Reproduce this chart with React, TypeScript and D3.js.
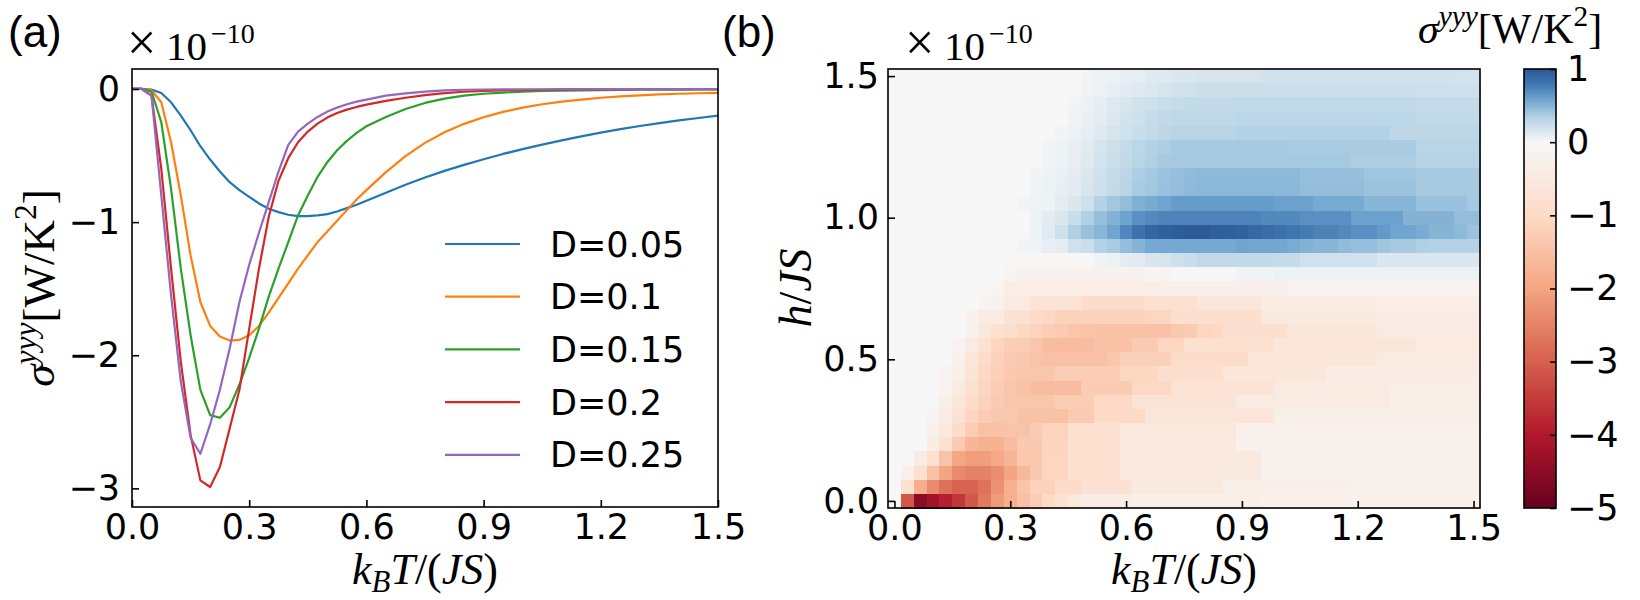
import React, { useEffect, useRef } from "react";
import * as d3 from "d3";

// ---------- panel (a): sigma^yyy (x 1e-10 W/K^2) against k_B T/(JS) ----------
const T_LINE = [
  0, 0.025, 0.05, 0.075, 0.1, 0.125, 0.15, 0.175, 0.2, 0.225, 0.25, 0.275, 0.3, 0.325, 0.35, 0.375, 0.4,
  0.425, 0.45, 0.475, 0.5, 0.525, 0.55, 0.575, 0.6, 0.65, 0.7, 0.75, 0.8, 0.85, 0.9, 0.95, 1.0, 1.05,
  1.1, 1.15, 1.2, 1.25, 1.3, 1.35, 1.4, 1.45, 1.5,
];
const D_LABELS = ["D=0.05", "D=0.1", "D=0.15", "D=0.2", "D=0.25"];
const SIGMA_D005 = [
  0, 0, -0.005, -0.03, -0.1, -0.2, -0.31, -0.43, -0.53, -0.62, -0.7, -0.76, -0.81, -0.86, -0.9, -0.925,
  -0.945, -0.955, -0.955, -0.95, -0.94, -0.92, -0.895, -0.87, -0.84, -0.78, -0.72, -0.665, -0.615, -0.57,
  -0.528, -0.488, -0.452, -0.418, -0.386, -0.356, -0.328, -0.302, -0.278, -0.256, -0.236, -0.218, -0.2,
];
const SIGMA_D010 = [
  0, 0, -0.01, -0.1, -0.4, -0.8, -1.25, -1.6, -1.78, -1.86, -1.89, -1.885, -1.85, -1.78, -1.68, -1.57,
  -1.46, -1.35, -1.25, -1.15, -1.07, -0.99, -0.91, -0.83, -0.76, -0.625, -0.505, -0.405, -0.325, -0.262,
  -0.212, -0.172, -0.14, -0.115, -0.095, -0.08, -0.066, -0.056, -0.048, -0.041, -0.036, -0.032, -0.03,
];
const SIGMA_D015 = [
  0, 0, -0.02, -0.25, -0.75, -1.35, -1.85, -2.26, -2.45, -2.47, -2.39, -2.22, -2.02, -1.8, -1.56, -1.35,
  -1.15, -0.95, -0.8, -0.66, -0.55, -0.46, -0.39, -0.33, -0.28, -0.21, -0.15, -0.105, -0.072, -0.05,
  -0.036, -0.027, -0.02, -0.015, -0.012, -0.01, -0.008, -0.007, -0.006, -0.005, -0.005, -0.004, -0.004,
];
const SIGMA_D020 = [
  0, 0, -0.05, -0.6, -1.35, -2.05, -2.6, -2.94, -2.99, -2.84, -2.55, -2.26, -1.8, -1.35, -0.96, -0.69,
  -0.52, -0.4, -0.32, -0.26, -0.215, -0.18, -0.155, -0.135, -0.118, -0.09, -0.066, -0.046, -0.031, -0.021,
  -0.014, -0.01, -0.008, -0.006, -0.005, -0.004, -0.003, -0.003, -0.002, -0.002, -0.002, -0.002, -0.002,
];
const SIGMA_D025 = [
  0, 0, -0.05, -0.8, -1.55, -2.2, -2.62, -2.74, -2.52, -2.26, -1.95, -1.6, -1.32, -1.08, -0.85, -0.62,
  -0.42, -0.32, -0.26, -0.21, -0.17, -0.14, -0.115, -0.095, -0.08, -0.05, -0.033, -0.02, -0.01, -0.006,
  -0.004, -0.003, -0.002, -0.002, -0.001, -0.001, -0.001, -0.001, -0.001, -0.001, -0.001, -0.001, -0.001,
];
const LINE_COLORS = ["#1f77b4", "#ff7f0e", "#2ca02c", "#d62728", "#9467bd"];

const XA_TICKS = [0, 0.3, 0.6, 0.9, 1.2, 1.5];
const YA_TICKS = [0, -1, -2, -3];

// ---------- panel (b): sigma^yyy map over (k_B T/(JS), h/JS) ----------
const T_GRID = [
  0, 0.033, 0.067, 0.1, 0.133, 0.167, 0.2, 0.233, 0.267, 0.3, 0.333, 0.367, 0.4, 0.433, 0.467, 0.5,
  0.533, 0.567, 0.6, 0.633, 0.667, 0.7, 0.733, 0.767, 0.8, 0.833, 0.867, 0.9, 0.933, 0.967, 1.0, 1.033,
  1.067, 1.1, 1.133, 1.167, 1.2, 1.233, 1.267, 1.3, 1.333, 1.367, 1.4, 1.433, 1.467, 1.5,
];
// rows from top (h = 1.5) to bottom (h = 0)
const H_GRID = [
  1.5, 1.45, 1.4, 1.35, 1.3, 1.25, 1.2, 1.15, 1.1, 1.05, 1.0, 0.95, 0.9, 0.85, 0.8, 0.75, 0.7, 0.65, 0.6,
  0.55, 0.5, 0.45, 0.4, 0.35, 0.3, 0.25, 0.2, 0.15, 0.1, 0.05, 0,
];
const SIGMA_MAP = [
  [0,0,0,0,0,0,0,0,0,0,0,0,0,0,0,.03,.05,.05,.09,.09,.12,.13,.15,.15,.17,.17,.17,.17,.17,.19,.19,.19,.19,.19,.19,.19,.19,.19,.19,.19,.19,.19,.19,.19,.18,.18],
  [0,0,0,0,0,0,0,0,0,0,0,0,0,0,0,.04,.06,.08,.11,.13,.15,.17,.19,.2,.22,.22,.22,.22,.22,.22,.22,.22,.22,.22,.22,.22,.22,.22,.22,.22,.22,.21,.21,.21,.21,.21],
  [0,0,0,0,0,0,0,0,0,0,0,0,0,0,.03,.06,.09,.13,.16,.19,.21,.23,.24,.26,.26,.26,.26,.27,.27,.27,.27,.27,.27,.27,.27,.27,.27,.27,.27,.27,.27,.25,.25,.25,.25,.25],
  [0,0,0,0,0,0,0,0,0,0,0,0,0,0,.04,.07,.1,.14,.18,.21,.24,.27,.28,.28,.28,.28,.28,.3,.3,.3,.3,.3,.3,.3,.3,.3,.3,.3,.3,.3,.3,.27,.27,.27,.27,.27],
  [0,0,0,0,0,0,0,0,0,0,0,0,0,.03,.06,.09,.13,.17,.2,.23,.26,.29,.31,.31,.31,.31,.31,.33,.33,.33,.33,.33,.33,.33,.33,.33,.33,.33,.33,.29,.29,.29,.29,.29,.29,.29],
  [0,0,0,0,0,0,0,0,0,0,0,0,.03,.05,.08,.12,.17,.21,.25,.3,.33,.36,.38,.38,.38,.38,.38,.38,.38,.38,.38,.37,.37,.37,.37,.37,.37,.37,.37,.37,.37,.31,.31,.31,.31,.31],
  [0,0,0,0,0,0,0,0,0,0,0,0,.03,.05,.09,.13,.18,.22,.26,.31,.35,.38,.39,.39,.39,.39,.39,.39,.39,.39,.39,.39,.39,.39,.39,.39,.36,.36,.36,.36,.36,.32,.32,.32,.32,.32],
  [0,0,0,0,0,0,0,0,0,0,0,.03,.05,.07,.1,.15,.2,.25,.3,.36,.39,.42,.44,.46,.47,.47,.47,.47,.47,.47,.47,.47,.44,.44,.44,.44,.44,.41,.41,.41,.41,.38,.38,.38,.38,.38],
  [0,0,0,0,0,0,0,0,0,0,0,.04,.06,.08,.11,.16,.21,.26,.31,.37,.4,.43,.45,.47,.48,.48,.48,.48,.48,.48,.48,.48,.45,.45,.45,.45,.45,.42,.42,.42,.42,.38,.38,.38,.38,.38],
  [0,0,0,0,0,0,0,0,0,0,.03,.04,.05,.1,.15,.21,.33,.4,.45,.52,.55,.58,.62,.62,.62,.62,.62,.62,.62,.62,.6,.6,.6,.55,.55,.55,.55,.49,.49,.49,.49,.43,.43,.43,.43,.39],
  [0,0,0,0,0,0,0,0,0,0,0,.05,.1,.15,.23,.35,.44,.51,.59,.67,.71,.73,.73,.73,.73,.73,.73,.73,.73,.71,.71,.71,.68,.68,.68,.68,.6,.6,.6,.6,.51,.51,.51,.51,.45,.45],
  [0,0,0,0,0,0,0,0,0,0,0,.05,.12,.21,.35,.43,.49,.58,.72,.82,.9,.94,.96,.98,.98,.95,.94,.92,.89,.86,.83,.8,.77,.74,.74,.71,.67,.67,.63,.58,.58,.54,.5,.5,.47,.42],
  [0,0,0,0,0,0,0,0,0,0,.03,.04,.08,.1,.19,.22,.33,.37,.45,.5,.56,.56,.56,.56,.56,.56,.56,.58,.57,.57,.57,.54,.51,.49,.49,.46,.44,.44,.41,.38,.38,.35,.33,.33,.33,.33],
  [0,0,0,0,0,0,0,0,0,-.04,-.04,-.04,-.04,-.04,0,0,.04,.06,.1,.11,.16,.17,.21,.23,.27,.27,.27,.27,.27,.27,.25,.25,.2,.2,.2,.2,.2,.2,.15,.15,.15,.15,.15,.15,.15,.15],
  [0,0,0,0,0,0,0,0,0,-.1,-.18,-.18,-.18,-.18,-.18,-.18,-.18,-.18,-.18,-.18,-.1,-.1,0,0,0,0,0,.03,.03,.03,.06,.06,.06,.06,.06,.06,.06,.06,.06,.06,.06,.06,.06,.06,.06,.06],
  [0,0,0,0,0,0,0,0,-.1,-.35,-.35,-.35,-.35,-.35,-.35,-.35,-.35,-.35,-.35,-.35,-.35,-.28,-.28,-.28,-.28,-.28,-.28,-.28,-.28,-.28,-.28,-.15,-.15,-.15,-.15,-.15,-.15,-.15,-.15,-.15,-.15,-.15,-.15,-.15,-.15,-.15],
  [0,0,0,0,0,0,0,-.12,-.2,-.4,-.45,-.7,-.7,-.7,-.7,-.93,-.93,-.93,-.93,-.93,-.8,-.8,-.8,-.8,-.6,-.6,-.6,-.6,-.6,-.42,-.42,-.42,-.42,-.42,-.42,-.42,-.42,-.42,-.36,-.36,-.36,-.36,-.36,-.36,-.36,-.36],
  [0,0,0,0,0,0,-.2,-.4,-.45,-.72,-.78,-1,-1.05,-1.17,-1.17,-1.17,-1.17,-1.17,-1.17,-1.17,-1.09,-1.09,-.85,-.85,-.85,-.85,-.85,-.85,-.85,-.5,-.5,-.5,-.5,-.5,-.5,-.5,-.5,-.5,-.38,-.38,-.38,-.38,-.38,-.38,-.38,-.38],
  [0,0,0,0,0,0,-.2,-.54,-.82,-.88,-1.08,-1.14,-1.26,-1.3,-1.4,-1.42,-1.48,-1.48,-1.48,-1.48,-1.48,-1.48,-1.35,-1.3,-1.1,-1.05,-.85,-.85,-.85,-.85,-.85,-.61,-.61,-.61,-.61,-.61,-.61,-.61,-.45,-.45,-.45,-.45,-.45,-.45,-.45,-.45],
  [0,0,0,0,0,-.15,-.43,-.75,-1.09,-1.24,-1.28,-1.39,-1.55,-1.55,-1.55,-1.55,-1.46,-1.46,-1.46,-1.3,-1.3,-1.09,-1.09,-.82,-.82,-.82,-.82,-.82,-.82,-.82,-.61,-.61,-.61,-.61,-.61,-.61,-.61,-.61,-.61,-.61,-.61,-.47,-.47,-.47,-.47,-.47],
  [0,0,0,0,0,-.2,-.6,-.96,-1.17,-1.3,-1.36,-1.44,-1.5,-1.5,-1.5,-1.5,-1.5,-1.4,-1.2,-1.2,-1.2,-1.2,-.93,-.93,-.93,-.93,-.93,-.93,-.61,-.61,-.61,-.61,-.61,-.61,-.61,-.61,-.61,-.61,-.45,-.45,-.45,-.45,-.45,-.45,-.45,-.45],
  [0,0,0,0,-.15,-.29,-.68,-1.04,-1.22,-1.33,-1.39,-1.39,-1.39,-1.26,-1.26,-1.26,-1.26,-1.26,-1.06,-1.06,-1.06,-.85,-.85,-.85,-.85,-.85,-.61,-.61,-.61,-.61,-.61,-.61,-.61,-.61,-.4,-.4,-.4,-.4,-.4,-.4,-.4,-.4,-.4,-.4,-.4,-.4],
  [0,0,0,0,-.15,-.43,-.82,-1.1,-1.26,-1.39,-1.48,-1.55,-1.55,-1.55,-1.55,-1.28,-1.28,-1.28,-1.28,-1.04,-1.04,-1.04,-.68,-.68,-.68,-.68,-.68,-.68,-.68,-.68,-.45,-.45,-.45,-.45,-.45,-.45,-.45,-.45,-.45,-.36,-.36,-.36,-.36,-.36,-.36,-.36],
  [0,0,0,0,-.29,-.61,-.96,-1.17,-1.3,-1.39,-1.39,-1.39,-1.39,-1.26,-1.26,-1.26,-1.02,-1.02,-1.02,-.68,-.68,-.68,-.68,-.68,-.68,-.68,-.68,-.43,-.43,-.43,-.43,-.43,-.43,-.43,-.43,-.43,-.43,-.43,-.43,-.29,-.29,-.29,-.29,-.29,-.29,-.29],
  [0,0,0,-.15,-.39,-.75,-1.09,-1.28,-1.36,-1.36,-1.48,-1.48,-1.48,-1.48,-1.3,-1.3,-1.02,-1.02,-1.02,-1.02,-.65,-.65,-.65,-.65,-.65,-.65,-.65,-.65,-.65,-.65,-.3,-.3,-.3,-.3,-.3,-.3,-.3,-.3,-.3,-.3,-.3,-.3,-.3,-.3,-.3,-.3],
  [0,0,0,-.25,-.54,-.96,-1.26,-1.48,-1.48,-1.44,-1.44,-1.3,-1.15,-1.15,-.82,-.82,-.82,-.82,-.54,-.54,-.54,-.54,-.54,-.54,-.54,-.54,-.54,-.25,-.25,-.25,-.25,-.25,-.25,-.25,-.25,-.25,-.25,-.25,-.25,-.25,-.25,-.25,-.25,-.25,-.25,-.25],
  [0,0,0,-.39,-.82,-1.3,-1.69,-1.78,-1.78,-1.56,-1.33,-1.33,-1.11,-1.11,-.82,-.82,-.82,-.82,-.5,-.5,-.5,-.5,-.5,-.5,-.5,-.5,-.5,-.21,-.21,-.21,-.21,-.21,-.21,-.21,-.21,-.21,-.21,-.21,-.21,-.21,-.21,-.21,-.21,-.21,-.21,-.21],
  [0,0,-.39,-.82,-1.44,-1.97,-2.1,-2.1,-1.93,-1.7,-1.36,-1.36,-1.1,-1.1,-.82,-.82,-.82,-.82,-.5,-.5,-.5,-.5,-.5,-.5,-.5,-.5,-.5,-.5,-.5,-.21,-.21,-.21,-.21,-.21,-.21,-.21,-.21,-.21,-.21,-.21,-.21,-.21,-.21,-.21,-.21,-.21],
  [0,-.25,-.82,-1.46,-2,-2.39,-2.49,-2.49,-2.33,-2,-1.63,-1.36,-1.1,-1.1,-.79,-.79,-.79,-.79,-.5,-.5,-.5,-.5,-.5,-.5,-.5,-.5,-.5,-.5,-.5,-.21,-.21,-.21,-.21,-.21,-.21,-.21,-.21,-.21,-.21,-.21,-.21,-.21,-.21,-.21,-.21,-.21],
  [0,-.79,-1.83,-2.39,-2.75,-2.95,-2.95,-2.74,-2.28,-1.8,-1.43,-1.17,-1.17,-.96,-.96,-.75,-.75,-.75,-.75,-.5,-.5,-.5,-.5,-.5,-.5,-.5,-.29,-.29,-.29,-.29,-.29,-.29,-.29,-.29,-.29,-.29,-.22,-.22,-.22,-.22,-.22,-.22,-.22,-.22,-.22,-.22],
  [0,-3.1,-4.5,-4.2,-3.9,-3.55,-3.1,-2.62,-2.16,-1.8,-1.5,-1.26,-1,-.75,-.54,-.4,-.4,-.4,-.4,-.3,-.3,-.3,-.3,-.3,-.3,-.3,-.3,-.3,-.3,-.22,-.22,-.22,-.22,-.22,-.22,-.22,-.22,-.22,-.22,-.22,-.22,-.22,-.22,-.22,-.22,-.22],
];
const XB_TICKS = [0, 0.3, 0.6, 0.9, 1.2, 1.5];
const YB_TICKS = [0, 0.5, 1.0, 1.5];
const CB_TICKS = [1, 0, -1, -2, -3, -4, -5];
const CMAP_VALUES = [-5, -4, -3, -2, -1, 0, 0.12, 0.35, 0.58, 0.8, 1];
const CMAP_COLORS = ["#67001f", "#b2182b", "#d6604d", "#f4a582", "#fddbc7", "#f7f7f7", "#e0eaf1", "#b0d0e4", "#6fa5cf", "#3f75b0", "#2a5796"];

const SANS = "'DejaVu Sans', sans-serif";
const SERIF = "'Liberation Serif', 'DejaVu Serif', serif";
const PANEL_FONT = "'Liberation Sans', Arial, sans-serif";

type Seg = { t: string; it?: boolean; sup?: boolean; sub?: boolean };

function richText(
  parent: d3.Selection<any, unknown, null, undefined>,
  x: number,
  y: number,
  segs: Seg[],
  size: number,
  anchor = "start",
  rotate = 0
) {
  const text = parent
    .append("text")
    .attr("x", x)
    .attr("y", y)
    .attr("font-family", SERIF)
    .attr("font-size", size)
    .attr("text-anchor", anchor)
    .attr("fill", "#000");
  if (rotate) text.attr("transform", `rotate(${rotate},${x},${y})`);
  let shift = 0;
  segs.forEach((s) => {
    const target = s.sup ? -0.4 * size : s.sub ? 0.18 * size : 0;
    text
      .append("tspan")
      .attr("dy", target - shift)
      .attr("font-size", s.sup || s.sub ? size * 0.7 : size)
      .attr("font-style", s.it ? "italic" : "normal")
      .text(s.t);
    shift = target;
  });
  return text;
}

// half-cell edges between neighbouring grid values (extrapolated at the ends)
function edge(arr: number[], i: number, side: -1 | 1) {
  const j = i + side;
  if (j < 0 || j >= arr.length) return arr[i] + (arr[i] - arr[i - side]) / 2;
  return (arr[i] + arr[j]) / 2;
}

const App: React.FC = () => {
  const svgRef = useRef<SVGSVGElement>(null);

  useEffect(() => {
    if (!svgRef.current) return;
    const svg = d3.select(svgRef.current);
    svg.selectAll("*").remove();

    const styleAxis = (g: d3.Selection<SVGGElement, unknown, null, undefined>) => {
      g.select(".domain").remove();
      g.selectAll(".tick line").attr("stroke", "#000").attr("stroke-width", 1.6);
      g.selectAll(".tick text").attr("fill", "#000").attr("font-size", 35).attr("font-family", SANS);
    };

    const offsetText = (x: number) => {
      svg.append("text").attr("x", x).attr("y", 60).attr("font-family", SERIF).attr("font-size", 52).text("×");
      svg.append("text").attr("x", x + 39).attr("y", 60).attr("font-family", SERIF).attr("font-size", 41).text("10");
      svg.append("text").attr("x", x + 84).attr("y", 43).attr("font-family", SERIF).attr("font-size", 28).text("−10");
    };

    const xLabelSegs: Seg[] = [
      { t: "k", it: true },
      { t: "B", it: true, sub: true },
      { t: "T", it: true },
      { t: "/(" },
      { t: "JS", it: true },
      { t: ")" },
    ];
    const sigmaSegs: Seg[] = [
      { t: "σ", it: true },
      { t: "yyy", it: true, sup: true },
      { t: "[W/K" },
      { t: "2", sup: true },
      { t: "]" },
    ];

    // ---------------- panel (a) ----------------
    const A = { left: 132, right: 718, top: 69, bottom: 507 };
    const xA = d3.scaleLinear().domain([0, 1.5]).range([A.left, A.right]);
    const yA = d3.scaleLinear().domain([-3.14, 0.15]).range([A.bottom, A.top]);

    svg
      .append("clipPath")
      .attr("id", "clipA")
      .append("rect")
      .attr("x", A.left)
      .attr("y", A.top)
      .attr("width", A.right - A.left)
      .attr("height", A.bottom - A.top);

    const series = [SIGMA_D005, SIGMA_D010, SIGMA_D015, SIGMA_D020, SIGMA_D025];
    const line = d3
      .line<number>()
      .x((_, i) => xA(T_LINE[i]))
      .y((d) => yA(d));
    const curves = svg.append("g").attr("clip-path", "url(#clipA)");
    series.forEach((s, k) => {
      curves
        .append("path")
        .attr("d", line(s))
        .attr("fill", "none")
        .attr("stroke", LINE_COLORS[k])
        .attr("stroke-width", 2.2)
        .attr("stroke-linejoin", "round");
    });

    svg
      .append("g")
      .attr("transform", `translate(0,${A.bottom})`)
      .call(
        d3
          .axisBottom(xA)
          .tickValues(XA_TICKS)
          .tickFormat(d3.format(".1f") as any)
          .tickSizeInner(-7)
          .tickSizeOuter(0)
          .tickPadding(7)
      )
      .call(styleAxis);
    svg
      .append("g")
      .attr("transform", `translate(${A.left},0)`)
      .call(
        d3
          .axisLeft(yA)
          .tickValues(YA_TICKS)
          .tickFormat(d3.format("d") as any)
          .tickSizeInner(-7)
          .tickSizeOuter(0)
          .tickPadding(12)
      )
      .call(styleAxis);
    svg
      .append("rect")
      .attr("x", A.left)
      .attr("y", A.top)
      .attr("width", A.right - A.left)
      .attr("height", A.bottom - A.top)
      .attr("fill", "none")
      .attr("stroke", "#000")
      .attr("stroke-width", 1.6);

    // legend
    const legend = svg.append("g").attr("transform", "translate(445,244)");
    D_LABELS.forEach((lab, i) => {
      const row = legend.append("g").attr("transform", `translate(0,${i * 52.7})`);
      row.append("line").attr("x1", 0).attr("x2", 75).attr("stroke", LINE_COLORS[i]).attr("stroke-width", 2.2);
      row
        .append("text")
        .attr("x", 105)
        .attr("dy", "0.36em")
        .attr("font-family", SANS)
        .attr("font-size", 35)
        .text(lab);
    });

    svg.append("text").attr("x", 8).attr("y", 47).attr("font-family", PANEL_FONT).attr("font-size", 44).text("(a)");
    offsetText(127);
    richText(svg, (A.left + A.right) / 2, 584, xLabelSegs, 44, "middle");
    richText(svg, 54, 288, sigmaSegs, 45, "middle", -90);

    // ---------------- panel (b) ----------------
    const B = { left: 888, right: 1480, top: 69, bottom: 508 };
    const xB = d3.scaleLinear().domain([-1 / 60, 1.5 + 1 / 60]).range([B.left, B.right]);
    const yB = d3.scaleLinear().domain([-0.025, 1.525]).range([B.bottom, B.top]);
    const color = d3
      .scaleLinear<string>()
      .domain(CMAP_VALUES)
      .range(CMAP_COLORS)
      .interpolate(d3.interpolateRgb)
      .clamp(true);

    const cells = svg.append("g").attr("shape-rendering", "crispEdges");
    SIGMA_MAP.forEach((row, r) => {
      const ya = yB(edge(H_GRID, r, -1));
      const yb = yB(edge(H_GRID, r, 1));
      row.forEach((v, c) => {
        const x0 = xB(edge(T_GRID, c, -1));
        const x1 = xB(edge(T_GRID, c, 1));
        cells
          .append("rect")
          .attr("x", x0)
          .attr("y", Math.min(ya, yb))
          .attr("width", x1 - x0 + 0.6)
          .attr("height", Math.abs(yb - ya) + 0.6)
          .attr("fill", color(v));
      });
    });

    svg
      .append("g")
      .attr("transform", `translate(0,${B.bottom})`)
      .call(
        d3
          .axisBottom(xB)
          .tickValues(XB_TICKS)
          .tickFormat(d3.format(".1f") as any)
          .tickSizeInner(-7)
          .tickSizeOuter(0)
          .tickPadding(7)
      )
      .call(styleAxis);
    svg
      .append("g")
      .attr("transform", `translate(${B.left},0)`)
      .call(
        d3
          .axisLeft(yB)
          .tickValues(YB_TICKS)
          .tickFormat(d3.format(".1f") as any)
          .tickSizeInner(-7)
          .tickSizeOuter(0)
          .tickPadding(9)
      )
      .call(styleAxis);
    svg
      .append("rect")
      .attr("x", B.left)
      .attr("y", B.top)
      .attr("width", B.right - B.left)
      .attr("height", B.bottom - B.top)
      .attr("fill", "none")
      .attr("stroke", "#000")
      .attr("stroke-width", 1.6);

    svg.append("text").attr("x", 722).attr("y", 47).attr("font-family", PANEL_FONT).attr("font-size", 44).text("(b)");
    offsetText(905);
    richText(svg, (B.left + B.right) / 2, 584, xLabelSegs, 44, "middle");
    richText(svg, 811, 288, [{ t: "h", it: true }, { t: "/" }, { t: "JS", it: true }], 46, "middle", -90);

    // ---------------- colour bar ----------------
    const CB = { left: 1524, right: 1556, top: 69, bottom: 508 };
    const yC = d3.scaleLinear().domain([-5, 1]).range([CB.bottom, CB.top]);
    const grad = svg
      .append("defs")
      .append("linearGradient")
      .attr("id", "cbGrad")
      .attr("x1", 0)
      .attr("y1", 1)
      .attr("x2", 0)
      .attr("y2", 0);
    CMAP_VALUES.forEach((v, i) => {
      grad
        .append("stop")
        .attr("offset", (v - CMAP_VALUES[0]) / (CMAP_VALUES[CMAP_VALUES.length - 1] - CMAP_VALUES[0]))
        .attr("stop-color", CMAP_COLORS[i]);
    });
    svg
      .append("rect")
      .attr("x", CB.left)
      .attr("y", CB.top)
      .attr("width", CB.right - CB.left)
      .attr("height", CB.bottom - CB.top)
      .attr("fill", "url(#cbGrad)")
      .attr("stroke", "#000")
      .attr("stroke-width", 1.6);
    svg
      .append("g")
      .attr("transform", `translate(${CB.right},0)`)
      .call(
        d3
          .axisRight(yC)
          .tickValues(CB_TICKS)
          .tickFormat(d3.format("d") as any)
          .tickSizeInner(-6)
          .tickSizeOuter(0)
          .tickPadding(11)
      )
      .call(styleAxis);
    richText(svg, 1418, 43, sigmaSegs, 42, "start");
  }, []);

  return (
    <div style={{ position: "absolute", left: 0, top: 0, background: "#fff" }}>
      <svg ref={svgRef} width={1640} height={600} style={{ display: "block" }} />
    </div>
  );
};

export default App;
